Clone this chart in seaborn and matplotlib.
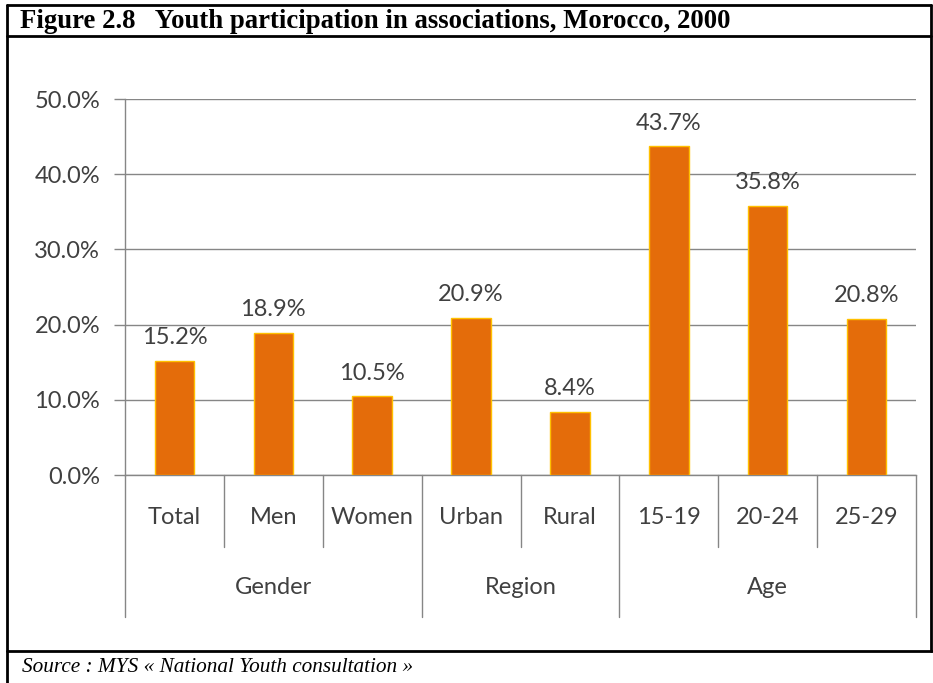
import matplotlib
matplotlib.use("Agg")
import matplotlib.pyplot as plt
import seaborn as sns
import pandas as pd
from matplotlib.lines import Line2D

categories = ["Total", "Men", "Women", "Urban", "Rural", "15-19", "20-24", "25-29"]
values = [15.2, 18.9, 10.5, 20.9, 8.4, 43.7, 35.8, 20.8]
groups = ["Gender", "Region", "Age"]
group_spans = [(0, 2), (3, 4), (5, 7)]
yticks = [0, 10, 20, 30, 40, 50]
title = "Figure 2.8   Youth participation in associations, Morocco, 2000"
source = "Source : MYS « National Youth consultation »"

sns.set_theme(style="white")
plt.rcParams['font.family'] = ['Lato', 'DejaVu Sans']

df = pd.DataFrame({"category": categories, "value": values})

W, H = 933, 683
fig = plt.figure(figsize=(W / 100, H / 100), dpi=100)
ax = fig.add_axes([125 / W, 1 - 475 / H, (916 - 125) / W, (475 - 99) / H])

text_color = "#404040"
grid_color = "#868686"
fs = 17

sns.barplot(data=df, x="category", y="value", ax=ax, color="#E46C0A",
            saturation=1, width=0.4, edgecolor="#FFC000", linewidth=1, zorder=3)

ax.set_ylim(0, 50)
ax.set_xlim(-0.5, len(categories) - 0.5)
ax.set_yticks(yticks)
ax.set_yticklabels([f"{v:.1f}%" for v in yticks], fontsize=fs, color=text_color)
ax.yaxis.grid(True, color=grid_color, linewidth=1, zorder=0)
ax.set_axisbelow(True)
ax.tick_params(axis="y", length=8, width=1, color=grid_color, pad=10, left=True)
ax.set_xticks([])
ax.set_xlabel("")
ax.set_ylabel("")
for s in ["top", "right"]:
    ax.spines[s].set_visible(False)
ax.spines["left"].set_color(grid_color)
ax.spines["bottom"].set_color(grid_color)
ax.spines["left"].set_linewidth(1)
ax.spines["bottom"].set_linewidth(1)

for c in ax.containers:
    ax.bar_label(c, labels=[f"{v:.1f}%" for v in values], padding=9,
                 fontsize=fs, color=text_color)

tr = ax.get_xaxis_transform()
cat_y = -0.112
grp_y = -0.30
short_bot = -0.1915
long_bot = -0.378

for i, cat in enumerate(categories):
    ax.text(i, cat_y, cat, transform=tr, ha="center", va="center",
            fontsize=fs, color=text_color)

boundaries_long = {-0.5, len(categories) - 0.5}
for (a, b) in group_spans:
    boundaries_long.add(a - 0.5)
    boundaries_long.add(b + 0.5)
for xb in [i + 0.5 for i in range(len(categories) - 1)] + [-0.5, len(categories) - 0.5]:
    bot = long_bot if xb in boundaries_long else short_bot
    ax.add_line(Line2D([xb, xb], [0, bot], transform=tr, color=grid_color,
                       linewidth=1, clip_on=False))

for g, (a, b) in zip(groups, group_spans):
    ax.text((a + b) / 2, grp_y, g, transform=tr, ha="center", va="center",
            fontsize=fs, color=text_color)

# Frame of the figure box
ft = fig.transFigure
def px_line(x0, y0, x1, y1, lw=2):
    fig.add_artist(Line2D([x0 / W, x1 / W], [1 - y0 / H, 1 - y1 / H],
                          transform=ft, color="black", linewidth=lw))

px_line(7, 5, 931, 5)
px_line(7, 36, 931, 36)
px_line(7, 651, 933, 651)
px_line(7, 5, 7, 683)
px_line(931, 5, 931, 651)

fig.text(20 / W, 1 - 21 / H, title, ha="left", va="center",
         fontsize=19.3, fontweight="bold", family=["Liberation Serif"], color="black")
fig.text(22 / W, 1 - 667 / H, source, ha="left", va="center",
         fontsize=15.3, fontstyle="italic", family=["Liberation Serif"], color="black")

fig.savefig("out.png", dpi=100)
